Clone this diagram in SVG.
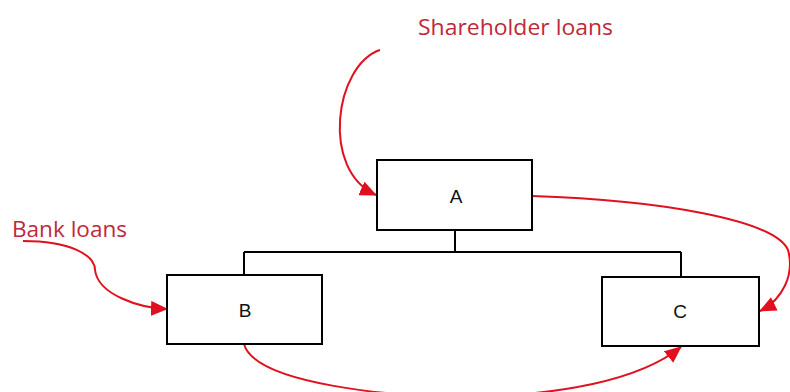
<svg xmlns="http://www.w3.org/2000/svg" width="790" height="392" viewBox="0 0 790 392">
<style>
.box{fill:#fff;stroke:#000;stroke-width:2}
.lbl{font-family:"Liberation Sans",Arial,sans-serif;font-size:19px;fill:#111;text-anchor:middle}
.note{font-family:"Open Sans","Liberation Sans",sans-serif;font-size:21px;fill:#c0283a}
.tree{fill:none;stroke:#000;stroke-width:2}
.flow{fill:none;stroke:#e0101f;stroke-width:2}
</style>
<defs>
<marker id="ah" markerUnits="userSpaceOnUse" markerWidth="17" markerHeight="15" refX="16" refY="7.5" orient="auto">
<path d="M0,0 L17,7.5 L0,15 Z" fill="#e0101f"/>
</marker>
</defs>
<rect width="790" height="392" fill="#fff"/>
<g id="connectors">
<path class="tree" d="M455,230 V252 M244,252 H681 M244,252 V275 M681,252 V277"/>
<path class="flow" d="M380,50 C335,65 320,170 376,195" marker-end="url(#ah)"/>
<path class="flow" d="M23,241 C70,241 95,255 95,270 C98,295 140,308 167,309" marker-end="url(#ah)"/>
<path class="flow" d="M532,196 C660,200 775,220 788,250 C795,275 782,300 760,311" marker-end="url(#ah)"/>
<path class="flow" d="M244,344 C255,385 400,397 460,397 C560,396 640,380 681,347" marker-end="url(#ah)"/>
</g>
<g id="node-A">
<rect class="box" x="377" y="160" width="155" height="70"/>
<text class="lbl" x="456" y="203">A</text>
</g>
<g id="node-B">
<rect class="box" x="167" y="275" width="155" height="69"/>
<text class="lbl" x="245" y="317">B</text>
</g>
<g id="node-C">
<rect class="box" x="602" y="277" width="157" height="69"/>
<text class="lbl" x="680" y="318">C</text>
</g>
<g id="labels">
<text class="note" x="418" y="35" textLength="195" lengthAdjust="spacingAndGlyphs">Shareholder loans</text>
<text class="note" x="12" y="237" textLength="115" lengthAdjust="spacingAndGlyphs">Bank loans</text>
</g>
</svg>
